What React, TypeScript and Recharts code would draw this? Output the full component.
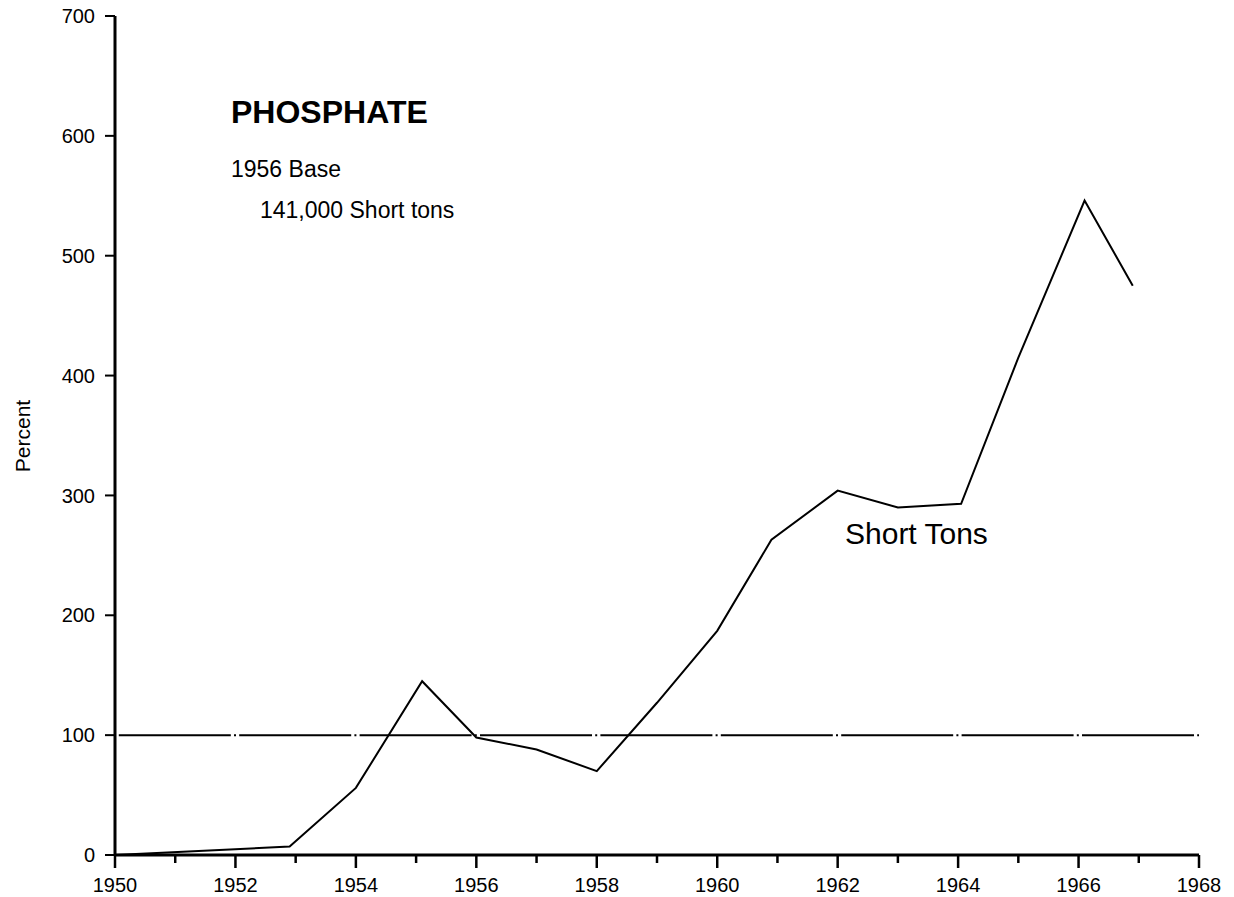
import { Customized, Line, LineChart, ReferenceLine, XAxis, YAxis } from "recharts";

const years = [
  1950, 1952.9, 1954, 1955.1, 1956, 1957, 1958, 1959, 1960, 1960.9, 1962,
  1963, 1964.05, 1965, 1966.1, 1966.9,
];
const percent = [0, 7, 56, 145, 98, 88, 70, 127, 187, 263, 304, 290, 293, 415, 546, 475];
const xTicks = [
  1950, 1951, 1952, 1953, 1954, 1955, 1956, 1957, 1958, 1959, 1960, 1961,
  1962, 1963, 1964, 1965, 1966, 1967, 1968,
];
const yTicks = [0, 100, 200, 300, 400, 500, 600, 700];
const baseLevel = 100;

const font = "'Liberation Sans', Arial, sans-serif";

const data = years.map((year, i) => ({ year, value: percent[i] }));

function YearTick(props: any) {
  const { x, y, payload } = props;
  const major = payload.value % 2 === 0;
  return (
    <g>
      <line
        x1={x}
        x2={x}
        y1={y}
        y2={y + (major ? 13 : 8)}
        stroke="#000"
        strokeWidth={2.5}
      />
      {major && (
        <text x={x} y={y + 37} textAnchor="middle" fontSize={20} fill="#000" fontFamily={font}>
          {payload.value}
        </text>
      )}
    </g>
  );
}

function Labels() {
  return (
    <g fontFamily={font} fill="#000">
      <text x={231} y={123} fontSize={32} fontWeight="bold">
        PHOSPHATE
      </text>
      <text x={231} y={177} fontSize={23}>
        1956 Base
      </text>
      <text x={260} y={218} fontSize={23}>
        141,000 Short tons
      </text>
      <text x={845} y={544} fontSize={30}>
        Short Tons
      </text>
      <text x={30} y={436} fontSize={21} textAnchor="middle" transform="rotate(-90, 30, 436)">
        Percent
      </text>
    </g>
  );
}

export default function App() {
  return (
    <div style={{ position: "absolute", left: 0, top: 0, background: "#fff" }}>
      <LineChart
        width={1234}
        height={897}
        data={data}
        margin={{ top: 16, right: 35, bottom: 0, left: 55 }}
      >
        <XAxis
          dataKey="year"
          type="number"
          domain={[1950, 1968]}
          ticks={xTicks}
          interval={0}
          tickLine={false}
          tickSize={0}
          tickMargin={0}
          height={42}
          axisLine={{ stroke: "#000", strokeWidth: 3 }}
          tick={YearTick}
        />
        <YAxis
          type="number"
          domain={[0, 700]}
          ticks={yTicks}
          interval={0}
          width={60}
          tickSize={10}
          tickMargin={10}
          tickLine={{ stroke: "#000", strokeWidth: 2 }}
          axisLine={{ stroke: "#000", strokeWidth: 3 }}
          tick={{ fill: "#000", fontSize: 20, fontFamily: font }}
        />
        <ReferenceLine
          y={baseLevel}
          stroke="#000"
          strokeWidth={2}
          strokeDasharray="112 3.2 2 3.2"
          strokeDashoffset={-3.8}
        />
        <Line
          type="linear"
          dataKey="value"
          stroke="#000"
          strokeWidth={2}
          dot={false}
          isAnimationActive={false}
        />
        <Customized component={Labels} />
      </LineChart>
    </div>
  );
}
